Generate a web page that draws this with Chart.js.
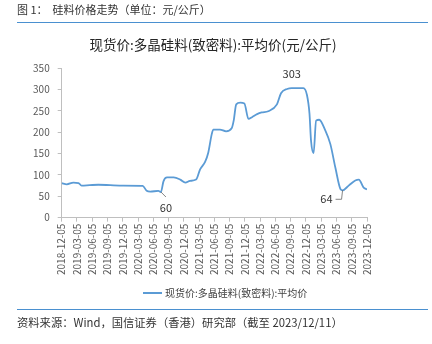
<!DOCTYPE html>
<html><head><meta charset="utf-8">
<script src="https://cdn.jsdelivr.net/npm/chart.js@4.4.0/dist/chart.umd.min.js"></script>
<style>
html,body{margin:0;padding:0;background:#fff;}
#wrap{position:relative;width:432px;height:344px;overflow:hidden;font-family:"Noto Sans CJK SC","Noto Sans",sans-serif;}
#hdr{position:absolute;left:17px;top:1px;font-size:11px;color:#333;white-space:pre;}
#hl{position:absolute;left:17px;width:411px;top:22px;height:0;border-top:1.5px solid #4a90d0;}
#ttl{position:absolute;left:0;width:426px;top:34px;text-align:center;font-size:13.5px;color:#262626;white-space:pre;}
#lgd{position:absolute;left:143px;top:285px;font-size:10px;color:#404040;white-space:pre;}
#lgd span.ln{display:inline-block;width:19px;height:2px;background:#5B9BD5;vertical-align:middle;margin-right:3px;position:relative;top:-1px;}
#fl{position:absolute;left:17px;width:411px;top:309px;height:0;border-top:1.5px solid #4a90d0;}
#ftr{position:absolute;left:17px;top:314px;font-size:11.3px;color:#333;white-space:pre;}
canvas{position:absolute;left:0;top:0;}
</style></head>
<body><div id="wrap">
<canvas id="c" width="432" height="344"></canvas>
<div id="hdr">图 1：  硅料价格走势（单位：元/公斤）</div>
<div id="hl"></div>
<div id="ttl"></div>
<div id="lgd"><span class="ln"></span><span id="lgdt"></span></div>
<div id="fl"></div>
<div id="ftr">资料来源：Wind，国信证券（香港）研究部（截至 2023/12/11）</div>
</div>
<script>
const seriesName = '现货价:多晶硅料(致密料):平均价';
const chartTitle = '现货价:多晶硅料(致密料):平均价(元/公斤)';
const tickLabels = ['2018-12-05','2019-03-05','2019-06-05','2019-09-05','2019-12-05','2020-03-05','2020-06-05','2020-09-05','2020-12-05','2021-03-05','2021-06-05','2021-09-05','2021-12-05','2022-03-05','2022-06-05','2022-09-05','2022-12-05','2023-03-05','2023-06-05','2023-09-05','2023-12-05'];
// months elapsed since 2018-12-05
const months = [0,1,2.3,3.3,3.9,5.5,7.2,11.8,15.9,16.7,17.4,19.0,19.5,20.0,20.7,22,23.3,24.3,25.2,26.4,27.2,28.2,28.8,29.5,29.8,31.1,32.3,33.4,33.8,34.3,35.1,35.9,36.7,37.4,38.4,39.3,40.6,42.3,43.1,44.3,45.2,47.5,48.2,48.7,49.0,49.5,50.0,50.6,51.8,52.8,53.8,54.8,55.2,56.4,57.7,58.4,59.3,60];
const prices = [81,78,82,81,75,76,77,75,74.5,63,61,62.5,60,85,94,94,89,82,86,89,113,131,152,196,206,206,202,209,227,265,269,267,231,235,242,246,249,265,291,301,303,303,287,243,180,151,227,229,204,172,116,66.5,64,75,87,89,71,66];
const annotations = [
  {text:'60', at:12},
  {text:'303', at:40},
  {text:'64', at:52}
];
document.getElementById('ttl').textContent = chartTitle;
document.getElementById('lgdt').textContent = seriesName;

const annoPlugin = {
  id:'anno',
  afterDatasetsDraw(chart){
    const ctx = chart.ctx, xs = chart.scales.x, ys = chart.scales.y;
    ctx.save();
    ctx.font = '11px "Noto Sans CJK SC", sans-serif';
    ctx.fillStyle = '#333';
    ctx.strokeStyle = '#666';
    ctx.lineWidth = 0.8;
    ctx.textBaseline = 'middle';
    annotations.forEach(a=>{
      const px = xs.getPixelForValue(months[a.at]);
      const py = ys.getPixelForValue(prices[a.at]);
      if(a.text==='303'){
        ctx.textAlign='center';
        ctx.fillText(a.text, px, py-14);
      } else if(a.text==='60'){
        ctx.beginPath(); ctx.moveTo(px,py); ctx.lineTo(px+5,py+5); ctx.stroke();
        ctx.textAlign='center';
        ctx.fillText(a.text, px+5, py+16);
      } else {
        ctx.beginPath(); ctx.moveTo(px,py); ctx.lineTo(px-1,py+9); ctx.lineTo(px-7,py+9); ctx.stroke();
        ctx.textAlign='right';
        ctx.fillText(a.text, px-10, py+9);
      }
    });
    ctx.restore();
  }
};

Chart.defaults.font.family = '"Noto Sans CJK SC","Noto Sans",sans-serif';
Chart.defaults.color = '#595959';
new Chart(document.getElementById('c'), {
  type:'line',
  data:{datasets:[{
    label: seriesName,
    data: months.map((m,i)=>({x:m,y:prices[i]})),
    borderColor:'#5B9BD5',
    backgroundColor:'#5B9BD5',
    borderWidth:1.8,
    pointRadius:0,
    tension:0.3,
    cubicInterpolationMode:'monotone'
  }]},
  options:{
    responsive:false,
    animation:false,
    layout:{padding:{top:68,left:0,right:65,bottom:67}},
    plugins:{
      title:{display:false},
      legend:{display:false},
      tooltip:{enabled:false}
    },
    scales:{
      x:{type:'linear',min:0,max:60,
        afterBuildTicks(s){ s.ticks = tickLabels.map((l,i)=>({value:i*3})); },
        ticks:{callback:(v,i)=>tickLabels[i],maxRotation:90,minRotation:90,font:{size:10},color:'#595959',padding:2,autoSkip:false},
        grid:{drawOnChartArea:false,drawTicks:true,tickLength:4,color:'#bfbfbf'},
        border:{color:'#bfbfbf'}
      },
      y:{min:0,max:350,
        ticks:{stepSize:50,font:{size:10},color:'#595959',padding:8},
        grid:{drawOnChartArea:false,drawTicks:true,tickLength:4,color:'#bfbfbf'},
        border:{color:'#bfbfbf'},
        afterFit(s){ s.width = 61.7; }
      }
    }
  },
  plugins:[annoPlugin]
});
</script>
</body></html>
